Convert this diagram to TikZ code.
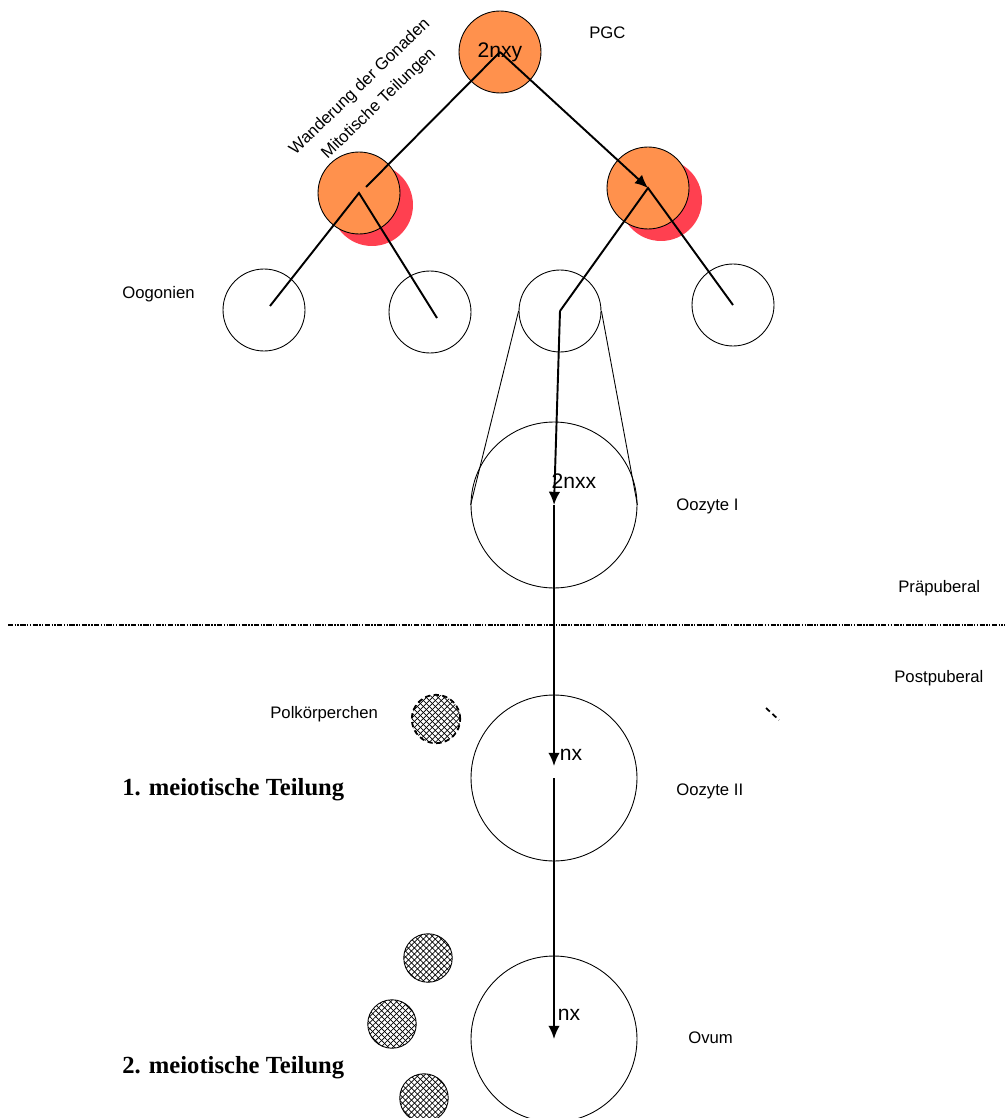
\documentclass[tikz,border=0pt]{standalone}
\usepackage{fontspec}
\setmainfont{Liberation Serif}
\setsansfont{Liberation Sans}
\usetikzlibrary{arrows.meta}
\usetikzlibrary{shadows}
\usetikzlibrary{patterns.meta}
\definecolor{cellorange}{RGB}{255,145,77}
\definecolor{shadowred}{RGB}{255,64,80}

\begin{document}
\begin{tikzpicture}[x=0.02cm, y=-0.02cm,
		cell/.style={circle, draw, line width=0.5pt, inner sep=0pt, minimum size=1.64cm},
		stemcell/.style={cell, fill=cellorange},
		dividing/.style={stemcell, drop shadow={shadow xshift=0.26cm, shadow yshift=-0.24cm, fill=shadowred, opacity=1}},
		oocyte/.style={circle, draw, line width=0.5pt, inner sep=0pt, minimum size=3.32cm},
		polbody/.style={circle, draw, line width=0.5pt, inner sep=0pt, minimum size=0.97cm,
			preaction={pattern={Lines[angle=45, distance=2.4pt, line width=0.4pt]}},
			pattern={Lines[angle=-45, distance=2.4pt, line width=0.4pt]}},
		conn/.style={line width=1.1pt},
		lbl/.style={font=\sffamily\fontsize{9.5}{11}\selectfont, inner sep=0pt},
		chrom/.style={font=\sffamily\fontsize{12}{14}\selectfont, inner sep=0pt},
		stage/.style={font=\bfseries\fontsize{14}{16}\selectfont, inner sep=0pt, anchor=west},
		>={Latex[length=7.5pt, width=6.5pt]}]
	\useasboundingbox (0,0) rectangle (1005,1118);

	% cells
	\node[stemcell, chrom] (pgc) at (500,52) {2nxy};
	\node[dividing] (lcell) at (359,193) {};
	\node[dividing] (rcell) at (648,188) {};
	\node[cell] (og1) at (264,310) {};
	\node[cell] (og2) at (430,312) {};
	\node[cell] (og3) at (560,311) {};
	\node[cell] (og4) at (733,305) {};
	\node[oocyte] (oz1) at (554,505) {};
	\node[oocyte] (oz2) at (554,778) {};
	\node[oocyte] (ovum) at (554,1039) {};

	% polar bodies
	\node[polbody, densely dashed, line width=1pt] (pk1) at (436,719) {};
	\node[polbody] (pk2) at (428,958) {};
	\node[polbody] (pk3) at (392,1024) {};
	\node[polbody] (pk4) at (424,1098) {};

	% cone to the oocyte
	\draw[line width=0.5pt] (og3.west) -- (oz1.west);
	\draw[line width=0.5pt] (og3.east) -- (oz1.east);

	% lineage
	\coordinate (lend) at (366,187);
	\coordinate (og1end) at (270,306);
	\coordinate (og2end) at (437,318);
	\draw[conn] (pgc.center) -- (lend);
	\draw[conn, ->] (pgc.center) -- (rcell.center);
	\draw[conn] (og1end) -- (lcell.center) -- (og2end);
	\draw[conn] (og3.center) -- (rcell.center) -- (og4.center);
	\draw[conn, ->] (og3.center) -- (oz1.center);
	\draw[conn, ->, shorten >=0.24cm] (oz1.center) -- (oz2.center);
	\draw[conn, ->] (oz2.center) -- (ovum.center);

	\node[chrom] at (574,481) {2nxx};
	\node[chrom] at (571,755) {nx};
	\node[chrom] at (569,1015) {nx};

	% puberty
	\draw[line width=1.4pt, dash pattern=on 3pt off 0.8pt on 0.8pt off 0.8pt on 0.8pt off 0.8pt] (8,625) -- (1005,625);
	\draw[line width=1pt, densely dashed] (766,708) -- (779,720);

	% labels
	\node[lbl, anchor=west] at (589,33) {PGC};
	\node[lbl, rotate=44] at (360,87) {Wanderung der Gonaden};
	\node[lbl, rotate=44] at (379,104) {Mitotische Teilungen};
	\node[lbl, anchor=west] at (122,294) {Oogonien};
	\node[lbl, anchor=west] at (676,506) {Oozyte I};
	\node[lbl, anchor=west] at (898,588) {Präpuberal};
	\node[lbl, anchor=west] at (894,678) {Postpuberal};
	\node[lbl, anchor=west] at (270,714) {Polkörperchen};
	\node[lbl, anchor=west] at (676,791) {Oozyte II};
	\node[lbl, anchor=west] at (688,1038) {Ovum};
	\node[stage] at (122,790) {1. meiotische Teilung};
	\node[stage] at (122,1068) {2. meiotische Teilung};
\end{tikzpicture}
\end{document}
